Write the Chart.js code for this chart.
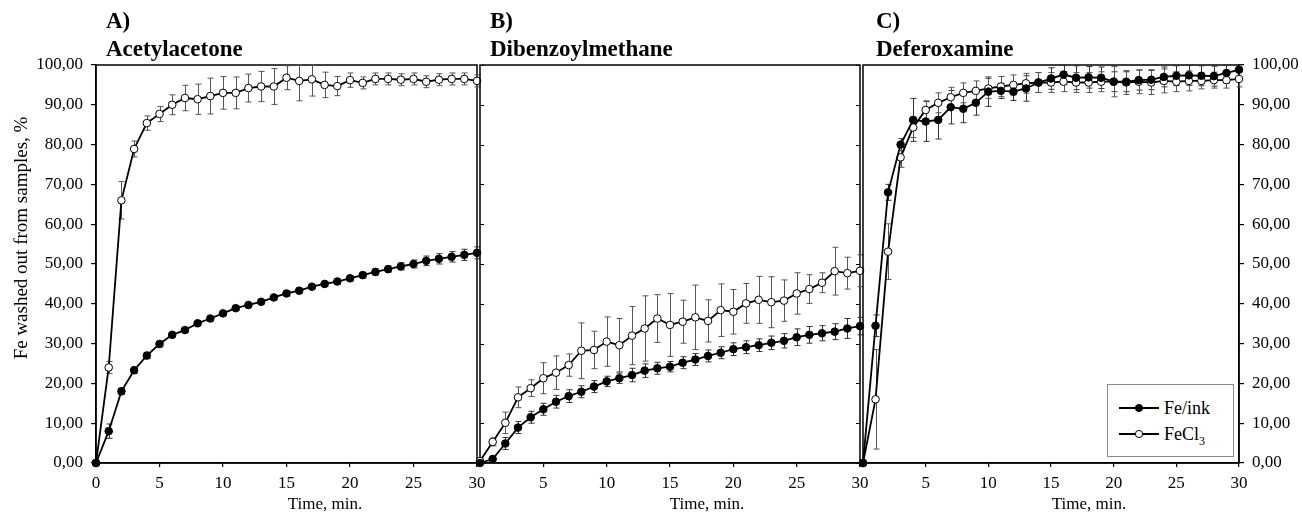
<!DOCTYPE html>
<html>
<head>
<meta charset="utf-8">
<script src="https://cdn.jsdelivr.net/npm/chart.js@4.4.0/dist/chart.umd.min.js"></script>
<style>
body { margin: 0; background: #fff; }
#wrap { position: relative; width: 1302px; height: 515px; font-family: "Liberation Serif", "Times New Roman", serif; color: #000; overflow: hidden; }
#wrap canvas { position: absolute; left: 0; top: 0; }
.ptitle { position: absolute; top: 7px; font-weight: bold; font-size: 23px; line-height: 28px; white-space: nowrap; }
.xtitle { position: absolute; top: 495px; width: 120px; margin-left: -60px; text-align: center; font-size: 17px; line-height: 17px; }
#ytitle { position: absolute; left: -179px; top: 228px; width: 400px; height: 20px; line-height: 20px; text-align: center; font-size: 19px; transform: rotate(-90deg); white-space: nowrap; }
#legend { position: absolute; left: 1107px; top: 384px; width: 127px; height: 73px; box-sizing: border-box; border: 1px solid #8a8a8a; background: #fff; z-index: 5; }
#legend .row { position: absolute; left: 11px; height: 20px; font-size: 18px; line-height: 20px; white-space: nowrap; }
#legend svg { position: absolute; left: 0; top: 5px; }
#legend span { position: absolute; left: 45px; top: 0; }
</style>
</head>
<body>
<div id="wrap">
  <canvas id="chartA" width="1302" height="515"></canvas>
  <canvas id="chartB" width="1302" height="515"></canvas>
  <canvas id="chartC" width="1302" height="515"></canvas>

  <div class="ptitle" style="left:106px">A)<br>Acetylacetone</div>
  <div class="ptitle" style="left:490px">B)<br>Dibenzoylmethane</div>
  <div class="ptitle" style="left:876px">C)<br>Deferoxamine</div>

  <div class="xtitle" style="left:325px">Time, min.</div>
  <div class="xtitle" style="left:707px">Time, min.</div>
  <div class="xtitle" style="left:1089px">Time, min.</div>

  <div id="ytitle">Fe washed out from samples, %</div>

  <div id="legend">
    <div class="row" style="top:13px">
      <svg width="40" height="10"><line x1="0" y1="5" x2="40" y2="5" stroke="#000" stroke-width="1.8"/><circle cx="20" cy="5" r="3.6" fill="#000" stroke="#000"/></svg>
      <span>Fe/ink</span>
    </div>
    <div class="row" style="top:39px">
      <svg width="40" height="10"><line x1="0" y1="5" x2="40" y2="5" stroke="#000" stroke-width="1.8"/><circle cx="20" cy="5" r="3.6" fill="#fff" stroke="#000"/></svg>
      <span>FeCl<sub style="font-size:12px">3</sub></span>
    </div>
  </div>
</div>

<script>
var time = [0, 1, 2, 3, 4, 5, 6, 7, 8, 9, 10, 11, 12, 13, 14, 15, 16, 17, 18, 19, 20, 21, 22, 23, 24, 25, 26, 27, 28, 29, 30];
var xTicks = [0, 5, 10, 15, 20, 25, 30];
var yTicks = [0, 10, 20, 30, 40, 50, 60, 70, 80, 90, 100];
var seriesNames = ["Fe/ink", "FeCl\u2083"];

// A) Acetylacetone
var acacInk = [0, 8, 18, 23.3, 27, 29.9, 32.2, 33.4, 35.1, 36.3, 37.6, 38.9, 39.7, 40.5, 41.6, 42.6, 43.3, 44.3, 45, 45.6, 46.4, 47.2, 48, 48.7, 49.4, 50, 50.8, 51.3, 51.8, 52.3, 52.8];
var acacInkErr = [0, 1.8, 0.8, 0.8, 0.8, 0.7, 0.6, 0.6, 0.6, 0.6, 0.6, 0.6, 0.6, 0.6, 0.6, 0.6, 0.6, 0.6, 0.6, 0.7, 0.7, 0.7, 0.8, 0.8, 0.9, 1, 1.2, 1.3, 1.3, 1.4, 1.5];
var acacCl = [0, 24, 66, 78.9, 85.4, 87.7, 90, 91.7, 91.4, 92.2, 93, 93, 94.2, 94.6, 94.6, 96.8, 96, 96.4, 95, 94.7, 96.2, 95.5, 96.5, 96.5, 96.3, 96.5, 95.8, 96.3, 96.5, 96.5, 96];
var acacClErr = [0, 1.5, 4.7, 2, 1.8, 1.9, 2.5, 3.2, 3.8, 4.5, 4.1, 4, 3.5, 3.8, 4.5, 3, 5, 4.2, 3.2, 2.4, 1.8, 1.5, 1.5, 1.5, 1.5, 1.5, 1.5, 1.5, 1.5, 1.5, 1.5];

// B) Dibenzoylmethane
var dbmInk = [0, 1, 4.9, 8.9, 11.5, 13.5, 15.4, 16.8, 17.9, 19.2, 20.5, 21.3, 22.1, 23.2, 23.8, 24.2, 25.2, 26, 26.9, 27.7, 28.6, 29.1, 29.6, 30.2, 30.7, 31.6, 32.2, 32.6, 33, 33.8, 34.4];
var dbmInkErr = [0, 0.8, 1.5, 1.5, 1.5, 1.5, 1.6, 1.6, 1.5, 1.5, 1.3, 1.3, 1.7, 1.7, 1.5, 1.3, 1.5, 1.5, 1.5, 1.5, 1.6, 1.6, 1.6, 1.7, 1.8, 2.1, 2.1, 1.9, 2, 2.5, 2.2];
var dbmCl = [0.5, 5.3, 10.1, 16.5, 18.8, 21.3, 22.7, 24.6, 28.2, 28.4, 30.5, 29.6, 32, 33.8, 36.3, 34.7, 35.5, 36.6, 35.7, 38.4, 38, 40.1, 41, 40.4, 40.8, 42.6, 43.7, 45.3, 48.2, 47.7, 48.3];
var dbmClErr = [0, 1, 2.7, 2.6, 2.1, 3.9, 4.2, 2.8, 7, 4.7, 6.2, 6.7, 7.3, 8.2, 6, 7.9, 5.4, 8.1, 5.3, 6.6, 5.6, 5, 5.9, 6.4, 5.2, 5.2, 3.6, 2.5, 6, 4, 4];

// C) Deferoxamine
var dfoInk = [0, 34.5, 68, 80, 86.2, 85.8, 86.2, 89.4, 89, 90.5, 93.3, 93.5, 93.3, 94.1, 95.6, 96.6, 97.6, 96.8, 96.9, 96.8, 95.8, 95.8, 96.2, 96.3, 97, 97.3, 97.4, 97.3, 97.2, 98, 98.8];
var dfoInkErr = [0, 2.7, 2, 1.5, 5.4, 5, 4.8, 4.2, 3.5, 3.1, 3.7, 1.9, 2.2, 3.2, 2.5, 2.7, 2.5, 3, 2.7, 2.7, 2.5, 2.5, 2.5, 2.5, 2.5, 2.5, 2.5, 2.5, 2.5, 2.5, 2];
var dfoCl = [0, 16, 53.1, 76.8, 84.3, 88.7, 90.5, 91.9, 93, 93.5, 94.1, 94.6, 95, 95.4, 95.6, 95.6, 95.8, 95.6, 95.6, 95.8, 95.8, 95.6, 95.8, 95.6, 96, 95.8, 96, 96, 96.2, 96.2, 96.5];
var dfoClErr = [0, 12.5, 7, 2.5, 2.5, 2.3, 2.5, 2.5, 2.5, 2.5, 2.5, 2.5, 2.5, 2.5, 2.5, 2.5, 2.5, 2.5, 2.5, 2.5, 3.8, 3, 3, 3, 3, 2.5, 2.5, 2, 2, 2, 2];

var serif = "'Liberation Serif', 'Times New Roman', serif";

function points(vals) {
    return time.map(function (t, i) { return { x: t, y: vals[i] }; });
}

// frame round each panel, plus short inner ticks on the shared edges
var framePlugin = {
    id: 'frame',
    beforeDatasetsDraw: function (chart, args, opts) {
        var a = chart.chartArea;
        var ctx = chart.ctx;
        var ys = chart.scales.y;
        ctx.save();
        ctx.strokeStyle = '#000';
        ctx.lineWidth = 1.5;
        ctx.strokeRect(a.left, a.top, a.right - a.left, a.bottom - a.top);
        if (opts.innerTicks) {
            ctx.lineWidth = 1;
            ctx.beginPath();
            yTicks.forEach(function (v) {
                var py = Math.round(ys.getPixelForValue(v)) + 0.5;
                ctx.moveTo(a.left, py); ctx.lineTo(a.left + 4, py);
                ctx.moveTo(a.right, py); ctx.lineTo(a.right - 4, py);
            });
            ctx.stroke();
        }
        ctx.restore();
    }
};

// vertical error bars with caps, under the points
var errorBarPlugin = {
    id: 'errorBars',
    beforeDatasetsDraw: function (chart) {
        var ctx = chart.ctx;
        var xs = chart.scales.x;
        var ys = chart.scales.y;
        chart.data.datasets.forEach(function (ds) {
            ctx.save();
            ctx.strokeStyle = ds.errColor;
            ctx.lineWidth = 1;
            ds.data.forEach(function (p, i) {
                var e = ds.err[i];
                if (!e) return;
                var px = Math.round(xs.getPixelForValue(p.x)) + 0.5;
                var top = ys.getPixelForValue(Math.min(p.y + e, 100));
                var bot = ys.getPixelForValue(p.y - e);
                ctx.beginPath();
                ctx.moveTo(px, top); ctx.lineTo(px, bot);
                ctx.moveTo(px - 3, top); ctx.lineTo(px + 3, top);
                ctx.moveTo(px - 3, bot); ctx.lineTo(px + 3, bot);
                ctx.stroke();
            });
            ctx.restore();
        });
    }
};

function makeDatasets(ink, inkErr, cl, clErr) {
    return [{
        label: seriesNames[0],
        data: points(ink),
        err: inkErr,
        errColor: '#333',
        borderColor: '#000',
        borderWidth: 1.8,
        pointRadius: 3.8,
        pointBorderWidth: 1,
        pointBackgroundColor: '#000',
        pointBorderColor: '#000',
        tension: 0,
        clip: false
    }, {
        label: seriesNames[1],
        data: points(cl),
        err: clErr,
        errColor: '#555',
        borderColor: '#000',
        borderWidth: 1.8,
        pointRadius: 3.8,
        pointBorderWidth: 1,
        pointBackgroundColor: '#fff',
        pointBorderColor: '#000',
        tension: 0,
        clip: false
    }];
}

function xScale(hideZero) {
    return {
        type: 'linear',
        min: xTicks[0],
        max: xTicks[xTicks.length - 1],
        afterBuildTicks: function (s) { s.ticks = xTicks.map(function (v) { return { value: v }; }); },
        afterFit: function (s) { s.height = 52; },
        ticks: {
            color: '#000',
            font: { family: serif, size: 17 },
            padding: 6,
            maxRotation: 0,
            autoSkip: false,
            callback: function (v) { return (hideZero && v === 0) ? '' : String(v); }
        },
        grid: { drawOnChartArea: false, tickLength: 4, color: '#000', lineWidth: 1.2 },
        border: { color: '#000', width: 1.5 }
    };
}

function yScale(pos, show, width) {
    return {
        type: 'linear',
        position: pos,
        display: show,
        min: yTicks[0],
        max: yTicks[yTicks.length - 1],
        afterBuildTicks: function (s) { s.ticks = yTicks.map(function (v) { return { value: v }; }); },
        afterFit: function (s) { s.width = width; },
        ticks: {
            color: '#000',
            font: { family: serif, size: 17 },
            padding: 8,
            callback: function (v) { return v.toFixed(2).replace('.', ','); }
        },
        grid: { drawOnChartArea: false, tickLength: 5, color: '#000', lineWidth: 1.2 },
        border: { color: '#000', width: 1.5 }
    };
}

function makeChart(id, datasets, yOpts, hideZero, padding, innerTicks) {
    return new Chart(document.getElementById(id), {
        type: 'line',
        data: { datasets: datasets },
        options: {
            responsive: false,
            animation: false,
            devicePixelRatio: 1,
            layout: { padding: padding },
            plugins: {
                legend: { display: false },
                tooltip: { enabled: false },
                frame: { innerTicks: innerTicks }
            },
            scales: { x: xScale(hideZero), y: yOpts }
        },
        plugins: [framePlugin, errorBarPlugin]
    });
}

var chartA = makeChart('chartA', makeDatasets(acacInk, acacInkErr, acacCl, acacClErr),
    yScale('left', true, 96), false, { left: 0, right: 825, top: 65, bottom: 0 }, false);
var chartB = makeChart('chartB', makeDatasets(dbmInk, dbmInkErr, dbmCl, dbmClErr),
    yScale('left', false, 0), true, { left: 480, right: 442, top: 65, bottom: 0 }, true);
var chartC = makeChart('chartC', makeDatasets(dfoInk, dfoInkErr, dfoCl, dfoClErr),
    yScale('right', true, 63), true, { left: 863, right: 0, top: 65, bottom: 0 }, false);
</script>
</body>
</html>
